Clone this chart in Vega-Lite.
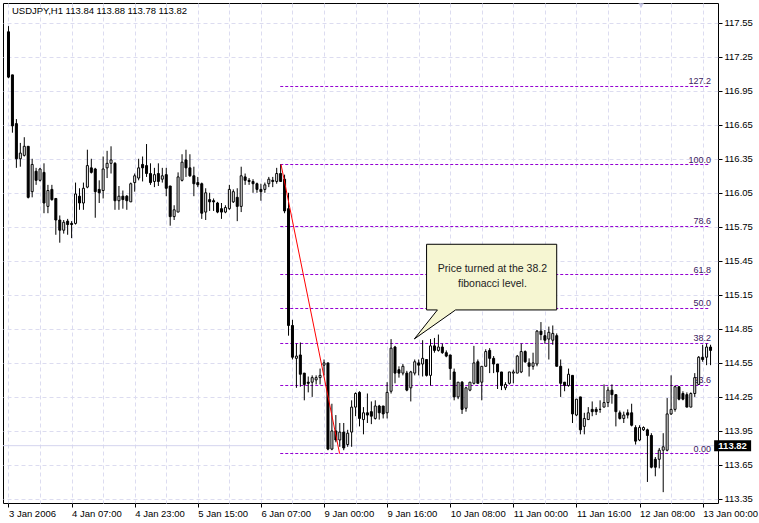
{
"$schema": "https://vega.github.io/schema/vega-lite/v6.json",
"width": 715, "height": 500,
"autosize": {"type": "none"},
"padding": {"left": 3, "top": 3, "right": 41, "bottom": 20},
"background": "white",
"config": {
"view": {"stroke": "black", "strokeWidth": 1},
"font": "Liberation Sans",
"axis": {"labelOverlap": false, "labelFlush": false, "labelBound": false, "grid": true, "gridColor": "#dcdcf0", "gridDash": [4,3], "domain": false, "tickSize": 4, "labelFontSize": 9.5, "labelColor": "black", "labelFont": "Liberation Sans", "title": null, "tickCount": 100},
"axisY": {"labelPadding": 2, "tickColor": "black"},
"axisX": {"labelPadding": 1, "labelAlign": "left"}
},
"datasets": {
"candles": [
{"i":0,"o":117.47,"h":117.52,"l":117.06,"c":117.07},
{"i":1,"o":117.09,"h":117.09,"l":116.58,"c":116.64},
{"i":2,"o":116.66,"h":116.70,"l":116.27,"c":116.35},
{"i":3,"o":116.35,"h":116.49,"l":116.28,"c":116.40},
{"i":4,"o":116.38,"h":116.54,"l":116.37,"c":116.46},
{"i":5,"o":116.46,"h":116.46,"l":116.00,"c":116.01},
{"i":6,"o":116.06,"h":116.35,"l":116.01,"c":116.30},
{"i":7,"o":116.24,"h":116.27,"l":116.12,"c":116.16},
{"i":8,"o":116.16,"h":116.27,"l":116.15,"c":116.26},
{"i":9,"o":116.23,"h":116.31,"l":115.87,"c":115.96},
{"i":10,"o":115.93,"h":116.12,"l":115.87,"c":116.07},
{"i":11,"o":116.08,"h":116.12,"l":115.98,"c":115.99},
{"i":12,"o":116.00,"h":116.00,"l":115.68,"c":115.81},
{"i":13,"o":115.81,"h":115.85,"l":115.61,"c":115.72},
{"i":14,"o":115.72,"h":115.81,"l":115.69,"c":115.79},
{"i":15,"o":115.80,"h":115.82,"l":115.68,"c":115.77},
{"i":16,"o":115.78,"h":115.80,"l":115.65,"c":115.77},
{"i":17,"o":115.78,"h":116.14,"l":115.77,"c":116.04},
{"i":18,"o":116.02,"h":116.09,"l":115.90,"c":115.96},
{"i":19,"o":115.96,"h":116.14,"l":115.90,"c":116.09},
{"i":20,"o":116.10,"h":116.43,"l":116.09,"c":116.29},
{"i":21,"o":116.27,"h":116.35,"l":116.22,"c":116.23},
{"i":22,"o":116.26,"h":116.27,"l":115.83,"c":116.06},
{"i":23,"o":116.08,"h":116.16,"l":115.96,"c":116.05},
{"i":24,"o":116.07,"h":116.37,"l":116.00,"c":116.26},
{"i":25,"o":116.27,"h":116.42,"l":116.18,"c":116.31},
{"i":26,"o":116.31,"h":116.46,"l":116.22,"c":116.34},
{"i":27,"o":116.31,"h":116.32,"l":115.90,"c":115.98},
{"i":28,"o":115.98,"h":116.11,"l":115.90,"c":116.02},
{"i":29,"o":116.02,"h":116.07,"l":115.91,"c":115.99},
{"i":30,"o":116.02,"h":116.03,"l":115.90,"c":115.98},
{"i":31,"o":115.97,"h":116.14,"l":115.97,"c":116.13},
{"i":32,"o":116.14,"h":116.22,"l":116.06,"c":116.20},
{"i":33,"o":116.18,"h":116.35,"l":116.16,"c":116.27},
{"i":34,"o":116.30,"h":116.37,"l":116.15,"c":116.27},
{"i":35,"o":116.29,"h":116.48,"l":116.19,"c":116.22},
{"i":36,"o":116.22,"h":116.31,"l":116.12,"c":116.14},
{"i":37,"o":116.15,"h":116.27,"l":116.10,"c":116.21},
{"i":38,"o":116.22,"h":116.31,"l":116.11,"c":116.15},
{"i":39,"o":116.17,"h":116.27,"l":116.14,"c":116.20},
{"i":40,"o":116.21,"h":116.27,"l":116.02,"c":116.09},
{"i":41,"o":116.11,"h":116.11,"l":115.76,"c":115.84},
{"i":42,"o":115.84,"h":115.94,"l":115.81,"c":115.90},
{"i":43,"o":115.88,"h":116.23,"l":115.88,"c":116.19},
{"i":44,"o":116.16,"h":116.39,"l":116.15,"c":116.32},
{"i":45,"o":116.34,"h":116.43,"l":116.19,"c":116.27},
{"i":46,"o":116.27,"h":116.39,"l":116.19,"c":116.20},
{"i":47,"o":116.20,"h":116.28,"l":116.02,"c":116.13},
{"i":48,"o":116.14,"h":116.19,"l":116.10,"c":116.12},
{"i":49,"o":116.13,"h":116.14,"l":115.82,"c":115.87},
{"i":50,"o":115.88,"h":116.09,"l":115.81,"c":116.05},
{"i":51,"o":115.99,"h":116.05,"l":115.89,"c":115.97},
{"i":52,"o":115.98,"h":116.00,"l":115.89,"c":115.97},
{"i":53,"o":115.96,"h":115.97,"l":115.87,"c":115.88},
{"i":54,"o":115.91,"h":115.96,"l":115.82,"c":115.88},
{"i":55,"o":115.88,"h":115.94,"l":115.87,"c":115.92},
{"i":56,"o":115.91,"h":116.12,"l":115.90,"c":116.08},
{"i":57,"o":115.97,"h":116.08,"l":115.96,"c":116.06},
{"i":58,"o":116.01,"h":116.09,"l":115.80,"c":115.93},
{"i":59,"o":115.93,"h":116.28,"l":115.88,"c":116.20},
{"i":60,"o":116.19,"h":116.22,"l":116.12,"c":116.16},
{"i":61,"o":116.16,"h":116.18,"l":116.12,"c":116.15},
{"i":62,"o":116.15,"h":116.17,"l":116.05,"c":116.13},
{"i":63,"o":116.13,"h":116.14,"l":116.05,"c":116.08},
{"i":64,"o":116.08,"h":116.13,"l":115.98,"c":116.06},
{"i":65,"o":116.08,"h":116.14,"l":116.05,"c":116.12},
{"i":66,"o":116.13,"h":116.19,"l":116.10,"c":116.17},
{"i":67,"o":116.16,"h":116.19,"l":116.10,"c":116.15},
{"i":68,"o":116.15,"h":116.27,"l":116.13,"c":116.22},
{"i":69,"o":116.22,"h":116.30,"l":116.15,"c":116.15},
{"i":70,"o":116.17,"h":116.21,"l":115.87,"c":115.89},
{"i":71,"o":115.91,"h":116.05,"l":114.79,"c":114.88},
{"i":72,"o":114.88,"h":114.93,"l":114.58,"c":114.60},
{"i":73,"o":114.59,"h":114.72,"l":114.33,"c":114.61},
{"i":74,"o":114.62,"h":114.73,"l":114.34,"c":114.45},
{"i":75,"o":114.46,"h":114.46,"l":114.22,"c":114.36},
{"i":76,"o":114.38,"h":114.43,"l":114.29,"c":114.37},
{"i":77,"o":114.38,"h":114.44,"l":114.25,"c":114.42},
{"i":78,"o":114.40,"h":114.44,"l":114.36,"c":114.42},
{"i":79,"o":114.42,"h":114.50,"l":114.36,"c":114.44},
{"i":80,"o":114.53,"h":114.58,"l":114.44,"c":114.55},
{"i":81,"o":114.55,"h":114.55,"l":113.78,"c":113.79},
{"i":82,"o":113.79,"h":114.19,"l":113.78,"c":113.95},
{"i":83,"o":113.95,"h":114.09,"l":113.85,"c":113.87},
{"i":84,"o":113.87,"h":114.02,"l":113.81,"c":113.94},
{"i":85,"o":113.94,"h":114.02,"l":113.78,"c":113.80},
{"i":86,"o":113.83,"h":113.96,"l":113.81,"c":113.93},
{"i":87,"o":113.94,"h":114.22,"l":113.81,"c":114.16},
{"i":88,"o":114.16,"h":114.29,"l":114.08,"c":114.28},
{"i":89,"o":114.29,"h":114.30,"l":113.99,"c":114.06},
{"i":90,"o":114.05,"h":114.16,"l":113.92,"c":114.11},
{"i":91,"o":114.11,"h":114.28,"l":114.02,"c":114.09},
{"i":92,"o":114.12,"h":114.21,"l":114.01,"c":114.08},
{"i":93,"o":114.06,"h":114.22,"l":114.05,"c":114.17},
{"i":94,"o":114.17,"h":114.18,"l":114.05,"c":114.11},
{"i":95,"o":114.17,"h":114.17,"l":114.06,"c":114.10},
{"i":96,"o":114.11,"h":114.38,"l":114.06,"c":114.29},
{"i":97,"o":114.30,"h":114.76,"l":114.28,"c":114.68},
{"i":98,"o":114.69,"h":114.70,"l":114.37,"c":114.46},
{"i":99,"o":114.49,"h":114.52,"l":114.42,"c":114.46},
{"i":100,"o":114.46,"h":114.54,"l":114.44,"c":114.52},
{"i":101,"o":114.46,"h":114.48,"l":114.30,"c":114.31},
{"i":102,"o":114.33,"h":114.48,"l":114.21,"c":114.47},
{"i":103,"o":114.46,"h":114.58,"l":114.44,"c":114.56},
{"i":104,"o":114.55,"h":114.58,"l":114.44,"c":114.53},
{"i":105,"o":114.54,"h":114.75,"l":114.43,"c":114.59},
{"i":106,"o":114.58,"h":114.58,"l":114.43,"c":114.44},
{"i":107,"o":114.44,"h":114.76,"l":114.35,"c":114.70},
{"i":108,"o":114.70,"h":114.77,"l":114.64,"c":114.66},
{"i":109,"o":114.66,"h":114.80,"l":114.65,"c":114.69},
{"i":110,"o":114.69,"h":114.72,"l":114.63,"c":114.64},
{"i":111,"o":114.64,"h":114.66,"l":114.60,"c":114.61},
{"i":112,"o":114.62,"h":114.62,"l":114.40,"c":114.50},
{"i":113,"o":114.47,"h":114.50,"l":114.22,"c":114.25},
{"i":114,"o":114.25,"h":114.38,"l":114.23,"c":114.38},
{"i":115,"o":114.38,"h":114.39,"l":114.10,"c":114.14},
{"i":116,"o":114.15,"h":114.34,"l":114.12,"c":114.33},
{"i":117,"o":114.31,"h":114.38,"l":114.30,"c":114.38},
{"i":118,"o":114.37,"h":114.70,"l":114.36,"c":114.55},
{"i":119,"o":114.56,"h":114.58,"l":114.37,"c":114.37},
{"i":120,"o":114.38,"h":114.52,"l":114.22,"c":114.52},
{"i":121,"o":114.52,"h":114.67,"l":114.52,"c":114.65},
{"i":122,"o":114.66,"h":114.68,"l":114.46,"c":114.59},
{"i":123,"o":114.59,"h":114.61,"l":114.46,"c":114.54},
{"i":124,"o":114.54,"h":114.54,"l":114.32,"c":114.47},
{"i":125,"o":114.47,"h":114.47,"l":114.31,"c":114.35},
{"i":126,"o":114.33,"h":114.38,"l":114.31,"c":114.36},
{"i":127,"o":114.37,"h":114.47,"l":114.36,"c":114.47},
{"i":128,"o":114.46,"h":114.49,"l":114.37,"c":114.47},
{"i":129,"o":114.46,"h":114.62,"l":114.46,"c":114.61},
{"i":130,"o":114.47,"h":114.72,"l":114.46,"c":114.65},
{"i":131,"o":114.65,"h":114.66,"l":114.55,"c":114.56},
{"i":132,"o":114.55,"h":114.59,"l":114.43,"c":114.52},
{"i":133,"o":114.52,"h":114.64,"l":114.49,"c":114.55},
{"i":134,"o":114.54,"h":114.84,"l":114.52,"c":114.83},
{"i":135,"o":114.83,"h":114.91,"l":114.75,"c":114.80},
{"i":136,"o":114.79,"h":114.84,"l":114.72,"c":114.75},
{"i":137,"o":114.76,"h":114.87,"l":114.58,"c":114.82},
{"i":138,"o":114.75,"h":114.88,"l":114.71,"c":114.81},
{"i":139,"o":114.79,"h":114.81,"l":114.52,"c":114.52},
{"i":140,"o":114.52,"h":114.58,"l":114.25,"c":114.37},
{"i":141,"o":114.38,"h":114.38,"l":114.30,"c":114.35},
{"i":142,"o":114.35,"h":114.50,"l":114.34,"c":114.45},
{"i":143,"o":114.44,"h":114.44,"l":114.02,"c":114.10},
{"i":144,"o":114.09,"h":114.23,"l":114.08,"c":114.23},
{"i":145,"o":114.25,"h":114.25,"l":113.92,"c":113.96},
{"i":146,"o":113.99,"h":114.11,"l":113.92,"c":114.06},
{"i":147,"o":114.05,"h":114.16,"l":114.05,"c":114.11},
{"i":148,"o":114.14,"h":114.21,"l":114.08,"c":114.12},
{"i":149,"o":114.14,"h":114.16,"l":114.09,"c":114.12},
{"i":150,"o":114.14,"h":114.22,"l":114.11,"c":114.14},
{"i":151,"o":114.16,"h":114.36,"l":114.16,"c":114.20},
{"i":152,"o":114.20,"h":114.34,"l":114.16,"c":114.31},
{"i":153,"o":114.31,"h":114.36,"l":114.19,"c":114.27},
{"i":154,"o":114.27,"h":114.27,"l":113.99,"c":114.12},
{"i":155,"o":114.11,"h":114.13,"l":114.05,"c":114.06},
{"i":156,"o":114.06,"h":114.12,"l":114.02,"c":114.09},
{"i":157,"o":114.11,"h":114.14,"l":114.06,"c":114.09},
{"i":158,"o":114.11,"h":114.19,"l":113.99,"c":114.00},
{"i":159,"o":113.98,"h":114.00,"l":113.83,"c":113.86},
{"i":160,"o":113.87,"h":114.00,"l":113.86,"c":113.98},
{"i":161,"o":113.96,"h":113.99,"l":113.95,"c":113.98},
{"i":162,"o":113.96,"h":113.97,"l":113.50,"c":113.91},
{"i":163,"o":113.91,"h":113.93,"l":113.62,"c":113.63},
{"i":164,"o":113.70,"h":113.72,"l":113.55,"c":113.63},
{"i":165,"o":113.70,"h":113.80,"l":113.62,"c":113.78},
{"i":166,"o":113.78,"h":113.93,"l":113.41,"c":113.81},
{"i":167,"o":113.78,"h":114.24,"l":113.77,"c":114.10},
{"i":168,"o":114.10,"h":114.44,"l":114.09,"c":114.14},
{"i":169,"o":114.14,"h":114.35,"l":114.12,"c":114.34},
{"i":170,"o":114.34,"h":114.34,"l":114.22,"c":114.23},
{"i":171,"o":114.28,"h":114.30,"l":114.22,"c":114.23},
{"i":172,"o":114.27,"h":114.29,"l":114.16,"c":114.16},
{"i":173,"o":114.16,"h":114.29,"l":114.16,"c":114.28},
{"i":174,"o":114.28,"h":114.46,"l":114.25,"c":114.42},
{"i":175,"o":114.36,"h":114.61,"l":114.36,"c":114.60},
{"i":176,"o":114.60,"h":114.71,"l":114.56,"c":114.58},
{"i":177,"o":114.60,"h":114.72,"l":114.53,"c":114.69},
{"i":178,"o":114.69,"h":114.71,"l":114.53,"c":114.66}
],
"fib": [
{"lvl":"127.2","p":116.9874},
{"lvl":"100.0","p":116.2995},
{"lvl":"78.6","p":115.7528},
{"lvl":"61.8","p":115.3295},
{"lvl":"50.0","p":115.0297},
{"lvl":"38.2","p":114.7211},
{"lvl":"23.6","p":114.3507},
{"lvl":"0.00","p":113.7510}
],
"trend": [
{"i":69.1,"p":116.30},
{"i":83.95,"p":113.75}
],
"callout": [
{"k":0,"i":106.0,"p":115.596},
{"k":1,"i":139.0,"p":115.596},
{"k":2,"i":139.0,"p":115.017},
{"k":3,"i":113.35,"p":115.017},
{"k":4,"i":102.9,"p":114.761},
{"k":5,"i":108.75,"p":115.017},
{"k":6,"i":106.0,"p":115.017},
{"k":7,"i":106.0,"p":115.596}
],
"note": [
{"i":122.7,"p":115.378,"t":"Price turned at the 38.2\nfibonacci level."}
],
"header": [
{"i":0.875,"p":117.627,"t":"USDJPY,H1  113.84 113.88 113.78 113.82"}
],
"bid": [
{"p":113.82,"t":"113.82"}
]
},
"layer": [
{
"data": {"name": "bid"},
"mark": {"type": "rule", "color": "#d4d4ee", "strokeWidth": 1},
"encoding": {"y": {"field": "p", "type": "quantitative", "title": null,
"scale": {"domain": [113.3145, 117.7237], "nice": false, "zero": false},
"axis": {"orient": "right", "values": [113.35,113.65,113.95,114.25,114.55,114.85,115.15,115.45,115.75,116.05,116.35,116.65,116.95,117.25,117.55],
"format": ".2f", "labelOverlap": false, "tickCount": 100}}}
},
{
"data": {"name": "fib"},
"mark": {"type": "rule", "color": "#9400d3", "strokeWidth": 1, "strokeDash": [3,2]},
"encoding": {
"x": {"datum": 68.9, "type": "quantitative", "title": null,
"scale": {"domain": [-0.125, 178.625], "nice": false, "zero": false},
"axis": {"values": [0,8,16,24,32,40,48,56,64,72,80,88,96,104,112,120,128,136,144,152,160,168,176],
"tickCount": 100,
"tickColor": {"condition": {"test": "datum.value % 16 === 0", "value": "black"}, "value": "transparent"},
"labelExpr": "datum.value % 16 === 0 ? ['3 Jan 2006','4 Jan 07:00','4 Jan 23:00','5 Jan 15:00','6 Jan 07:00','9 Jan 00:00','9 Jan 16:00','10 Jan 08:00','11 Jan 00:00','11 Jan 16:00','12 Jan 08:00','13 Jan 00:00'][datum.value/16] : ''",
"labelOverlap": false}},
"x2": {"datum": 177.9},
"y": {"field": "p", "type": "quantitative", "title": null}
}
},
{
"data": {"name": "fib"},
"mark": {"type": "text", "align": "right", "baseline": "alphabetic", "dy": -2, "fontSize": 9, "color": "#3a2060", "font": "Liberation Sans"},
"encoding": {
"x": {"datum": 178.1, "type": "quantitative", "title": null},
"y": {"field": "p", "type": "quantitative", "title": null},
"text": {"field": "lvl"}
}
},
{
"data": {"name": "candles"},
"mark": {"type": "rule", "color": "black", "strokeWidth": 1, "clip": true},
"encoding": {
"x": {"field": "i", "type": "quantitative", "title": null},
"y": {"field": "l", "type": "quantitative", "title": null},
"y2": {"field": "h"}
}
},
{
"data": {"name": "candles"},
"mark": {"type": "bar", "size": 2, "stroke": "black", "strokeWidth": 1, "clip": true},
"encoding": {
"x": {"field": "i", "type": "quantitative", "title": null},
"y": {"field": "o", "type": "quantitative", "title": null},
"y2": {"field": "c"},
"fill": {"condition": {"test": "datum.o > datum.c", "value": "black"}, "value": "white"}
}
},
{
"data": {"name": "trend"},
"mark": {"type": "line", "color": "#ff0000", "strokeWidth": 1},
"encoding": {
"x": {"field": "i", "type": "quantitative", "title": null},
"y": {"field": "p", "type": "quantitative", "title": null}
}
},
{
"data": {"name": "callout"},
"mark": {"type": "line", "fill": "#f6f6d2", "stroke": "black", "strokeWidth": 1},
"encoding": {
"x": {"field": "i", "type": "quantitative", "title": null},
"y": {"field": "p", "type": "quantitative", "title": null},
"order": {"field": "k"}
}
},
{
"data": {"name": "note"},
"mark": {"type": "text", "align": "center", "baseline": "middle", "fontSize": 10.5, "lineBreak": "\n", "lineHeight": 15, "color": "#222222", "font": "Liberation Sans"},
"encoding": {
"x": {"field": "i", "type": "quantitative", "title": null},
"y": {"field": "p", "type": "quantitative", "title": null},
"text": {"field": "t"}
}
},
{
"data": {"name": "header"},
"mark": {"type": "text", "align": "left", "baseline": "alphabetic", "fontSize": 9.5, "color": "black", "font": "Liberation Sans"},
"encoding": {
"x": {"field": "i", "type": "quantitative", "title": null},
"y": {"field": "p", "type": "quantitative", "title": null},
"text": {"field": "t"}
}
},
{
"data": {"name": "bid"},
"mark": {"type": "point", "shape": "M-1,-0.3H1V0.3H-1Z", "size": 1369, "filled": true, "color": "black", "opacity": 1},
"encoding": {
"x": {"datum": 183.6, "type": "quantitative", "title": null},
"y": {"field": "p", "type": "quantitative", "title": null}
}
},
{
"data": {"name": "bid"},
"mark": {"type": "text", "align": "center", "baseline": "middle", "fontSize": 9.5, "color": "white", "font": "Liberation Sans", "fontWeight": "bold"},
"encoding": {
"x": {"datum": 183.6, "type": "quantitative", "title": null},
"y": {"field": "p", "type": "quantitative", "title": null},
"text": {"field": "t"}
}
},
{
"data": {"name": "bid"},
"mark": {"type": "point", "shape": "triangle-down", "size": 30, "filled": true, "color": "#c8c8e8", "opacity": 1},
"encoding": {
"x": {"datum": 160.4, "type": "quantitative", "title": null},
"y": {"datum": 117.70, "type": "quantitative", "title": null}
}
}
]
}
